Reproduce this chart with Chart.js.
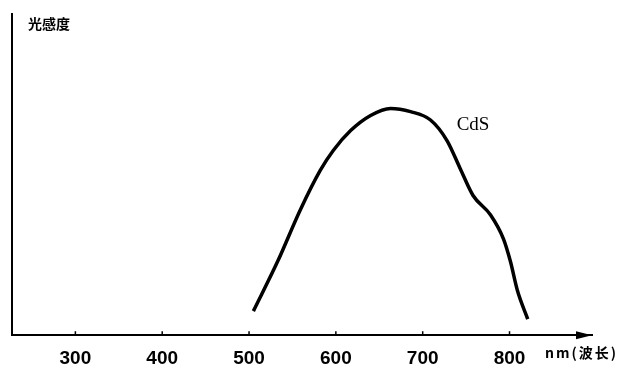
<!DOCTYPE html>
<html>
<head>
<meta charset="utf-8">
<script src="https://cdn.jsdelivr.net/npm/chart.js@4/dist/chart.umd.min.js"></script>
<style>
  html, body { margin: 0; padding: 0; background: #fff; }
  canvas { display: block; }
</style>
</head>
<body>
<canvas id="chart" width="631" height="367"></canvas>
<script>
// CdS spectral response
const wavelengths = [505, 533, 559, 582, 597, 617, 640, 663, 686, 709, 728, 743, 758, 778, 793, 801, 809, 821];
const sensitivity = [7.5, 23, 39, 51.3, 57.5, 63.7, 68.4, 70.6, 69.6, 67, 60.6, 52, 43.5, 37.5, 30, 23, 14, 5];
const tickValues = [300, 400, 500, 600, 700, 800];
const yTitle = "光感度";
const xTitle = "nm(波长)";
const seriesLabel = "CdS";

const ink = "#000";

const decorations = {
  id: "decorations",
  afterDraw(chart) {
    const ctx = chart.ctx;
    const xs = chart.scales.x, ys = chart.scales.y;
    const area = chart.chartArea;
    ctx.save();
    ctx.fillStyle = ink;
    ctx.strokeStyle = ink;
    // small tick marks pointing up from the axis
    ctx.lineWidth = 1.5;
    for (const v of tickValues) {
      const px = xs.getPixelForValue(v);
      ctx.beginPath();
      ctx.moveTo(px, area.bottom);
      ctx.lineTo(px, area.bottom - 4);
      ctx.stroke();
    }
    // arrow head on x axis
    ctx.beginPath();
    ctx.moveTo(area.right, area.bottom);
    ctx.lineTo(area.right - 16, area.bottom - 4);
    ctx.lineTo(area.right - 16, area.bottom + 4);
    ctx.closePath();
    ctx.fill();
    // titles
    ctx.font = "bold 14px 'Noto Sans CJK SC'";
    ctx.textBaseline = "middle";
    ctx.textAlign = "left";
    ctx.fillText(yTitle, area.left + 16, 24);
    ctx.font = "bold 14px 'Noto Sans CJK SC'";
    ctx.letterSpacing = "2px";
    ctx.fillText(xTitle, 545, 353);
    ctx.letterSpacing = "0px";
    // series label
    ctx.font = "19px 'Liberation Serif'";
    ctx.textAlign = "center";
    ctx.fillText(seriesLabel, xs.getPixelForValue(758), ys.getPixelForValue(65.3));
    ctx.restore();
  }
};

new Chart(document.getElementById("chart"), {
  type: "line",
  data: {
    datasets: [{
      label: seriesLabel,
      data: wavelengths.map((w, i) => ({ x: w, y: sensitivity[i] })),
      borderColor: ink,
      borderWidth: 3.5,
      pointRadius: 0,
      cubicInterpolationMode: "monotone",
      fill: false
    }]
  },
  options: {
    responsive: false,
    animation: false,
    devicePixelRatio: 1,
    layout: { padding: { left: 12, right: 39, top: 14, bottom: -15 } },
    plugins: { legend: { display: false }, tooltip: { enabled: false } },
    scales: {
      x: {
        type: "linear",
        min: 227,
        max: 895,
        afterBuildTicks: s => { s.ticks = tickValues.map(v => ({ value: v })); },
        grid: { display: false, drawTicks: false },
        border: { display: true, color: ink, width: 2 },
        ticks: {
          color: ink,
          padding: 12,
          maxRotation: 0,
          font: { family: "'Liberation Sans'", size: 19, weight: "bold" }
        }
      },
      y: {
        min: 0,
        max: 100,
        grid: { display: false, drawTicks: false },
        border: { display: true, color: ink, width: 2 },
        ticks: { display: false }
      }
    }
  },
  plugins: [decorations]
});
</script>
</body>
</html>
